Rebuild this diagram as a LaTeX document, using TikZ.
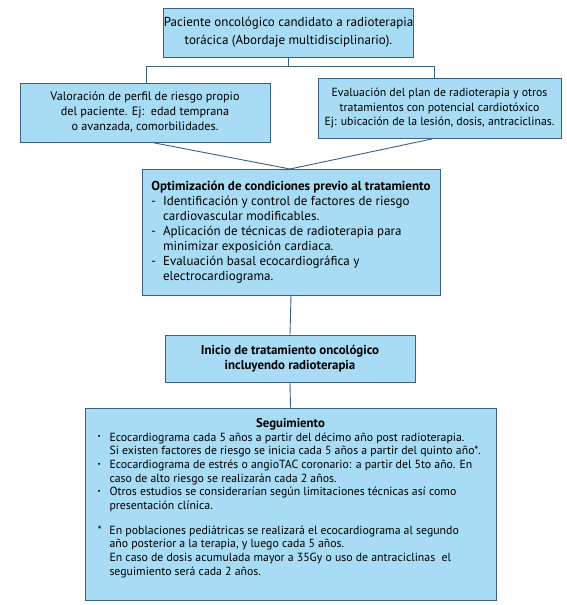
\documentclass[tikz,border=0pt]{standalone}
\usepackage{fontspec}
\setmainfont{PT Sans}
\usetikzlibrary{shadows}
\definecolor{boxfill}{RGB}{168,220,245}
\definecolor{boxline}{RGB}{58,96,130}
\newcommand\itm[1]{\makebox[12pt][l]{#1}}
\newcommand\cnt{\hspace*{12pt}}
\newcommand\bul{\raisebox{0.35ex}{\scriptsize •}}
\begin{document}
\begin{tikzpicture}[x=1pt,y=-1pt,
  fbox/.style={draw=boxline, line width=0.9pt, fill=boxfill, inner sep=0pt, align=center,
     drop shadow={shadow xshift=0.8pt, shadow yshift=-0.8pt, fill=boxline!70, opacity=0.8},
     font=\fontsize{12.2}{15}\selectfont},
  conn/.style={draw=boxline, line width=0.9pt}]
\useasboundingbox (0,0) rectangle (567,605);
\fill[white] (0,0) rectangle (567,605);

\node[fbox, minimum width=245pt, minimum height=49pt, font=\fontsize{13}{18}\selectfont] (b1) at (288.5,32.5)
  {Paciente oncológico candidato a radioterapia\\torácica (Abordaje multidisciplinario).};

\node[fbox, minimum width=250pt, minimum height=59pt] (b2) at (145,112.5)
  {Valoración de perfil de riesgo propio\\del paciente. Ej:\ \ edad temprana\\o avanzada, comorbilidades.};

\node[fbox, minimum width=243pt, minimum height=60pt, font=\fontsize{11.8}{14.5}\selectfont] (b3) at (439.5,108.5)
  {Evaluación del plan de radioterapia y otros\\tratamientos con potencial cardiotóxico\\Ej: ubicación de la lesión, dosis, antraciclinas.};

\node[fbox, minimum width=298pt, minimum height=126pt, align=left, font=\fontsize{13}{15}\selectfont] (b4) at (291,232)
  {\begin{tabular}{@{}l@{\hspace{7pt}}l@{}}
   \multicolumn{2}{@{}c@{}}{\bfseries Optimización de condiciones previo al tratamiento}\\
   - & Identificación y control de factores de riesgo\\
      & cardiovascular modificables.\\
   - & Aplicación de técnicas de radioterapia para\\
      & minimizar exposición cardiaca.\\
   - & Evaluación basal ecocardiográfica y\\
      & electrocardiograma.
   \end{tabular}};

\node[fbox, minimum width=250pt, minimum height=47pt, font=\fontsize{12.9}{15.5}\selectfont\bfseries] (b5) at (290,358.5)
  {Inicio de tratamiento oncológico\\incluyendo radioterapia};

\node[fbox, minimum width=411pt, minimum height=192pt, font=\fontsize{11.8}{13.7}\selectfont] (b6) at (290.5,504)
  {\begin{minipage}{386pt}\centering{\fontsize{12.8}{13.7}\selectfont\bfseries Seguimiento}\par\raggedright
   \itm{\bul}Ecocardiograma cada 5 años a partir del décimo año post radioterapia.\\
   \cnt Si existen factores de riesgo se inicia cada 5 años a partir del quinto año*.\\
   \itm{\bul}Ecocardiograma de estrés o angioTAC coronario: a partir del 5to año. En\\
   \cnt caso de alto riesgo se realizarán cada 2 años.\\
   \itm{\bul}Otros estudios se considerarían según limitaciones técnicas así como\\
   \cnt presentación clínica.\par\vspace{11pt}
   \itm{*}En poblaciones pediátricas se realizará el ecocardiograma al segundo\\
   \cnt año posterior a la terapia, y luego cada 5 años.\\
   \cnt En caso de dosis acumulada mayor a 35Gy o uso de antraciclinas\ \ el\\
   \cnt seguimiento será cada 2 años.\par\vspace*{12pt}
   \end{minipage}};

% connectors
\coordinate (j) at (b1.south |- 0,66);
\coordinate (jl) at (146,66);
\coordinate (jr) at (434,66);
\coordinate (m) at (290,169);
\draw[conn] (b1.south) -- (j);
\draw[conn] (jl) -- (jr);
\draw[conn] (jl) -- (jl |- b2.north);
\draw[conn] (jr) -- (jr |- b3.north);
\draw[conn] (b2.south -| 152,0) -- (m);
\draw[conn] (b3.south -| 432,0) -- (m);
\draw[conn] (b4.south) -- (b5.north);
\draw[conn] (b5.south) -- (b6.north);
\end{tikzpicture}
\end{document}
